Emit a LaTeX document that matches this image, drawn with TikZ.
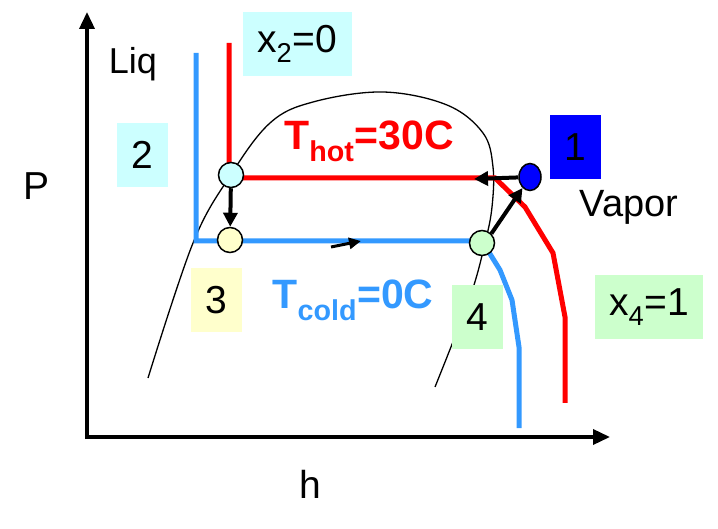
\documentclass[tikz,border=0pt]{standalone}
\usepackage{fontspec}
\setmainfont{Liberation Sans}
\usetikzlibrary{arrows.meta,shapes.geometric}
\definecolor{hotred}{RGB}{255,0,0}
\definecolor{coldblue}{RGB}{51,153,255}
\definecolor{tagcyan}{RGB}{204,255,255}
\definecolor{tagyellow}{RGB}{255,255,204}
\definecolor{taggreen}{RGB}{204,255,204}
\definecolor{tagblue}{RGB}{0,0,255}
\begin{document}
\begin{tikzpicture}[x=1pt,y=-1pt,font=\fontsize{39}{44}\selectfont,
 tag/.style={minimum width=51pt,minimum height=64pt,inner sep=0pt},
 state/.style={draw,ellipse,line width=1.5pt,minimum width=25pt,minimum height=25pt,inner sep=0pt},
 flow/.style={line width=4pt,-{Triangle[length=14pt,width=14pt]}},
 axis/.style={line width=3.5pt,-{Triangle[length=17pt,width=15pt]}},
 >=Stealth]
\useasboundingbox (0,0) rectangle (718,529);
\coordinate (origin) at (87,437);
\coordinate (ptop) at (87,12);
\coordinate (hend) at (610,437);
\draw[axis] ([yshift=-2pt]origin)--(ptop);
\draw[axis] ([xshift=-2pt]origin)--(hend);
\node (plabel) at (37,186) {P};
\node (hlabel) at (310,484) {h};
\node[font=\fontsize{36}{40}\selectfont] (liq) at (133,64) {Liq};
\node[font=\fontsize{38}{42}\selectfont] (vapor) at (629,207) {Vapor};
\draw[line width=1.3pt] plot[smooth,tension=0.6] coordinates {(148,378) (193,243) (230,176) (270,123) (313,102) (383,92) (447,105) (483,133) (493,167) (492,207) (485,243) (470,297) (435,387)};
\draw[hotred,line width=5pt,line join=miter] (229,43)--(229,178)--(495,178)--(525,207)--(553,253)--(565,317)--(565,403);
\draw[coldblue,line width=5pt,line join=miter] (196,53)--(196,241)--(482,241)--(500,270)--(512,300)--(519,347)--(519,428);
\node[text=hotred,font=\fontsize{41}{46}\selectfont\bfseries] (thot) at (369,141) {T\textsubscript{hot}=30C};
\node[text=coldblue,font=\fontsize{41}{46}\selectfont\bfseries] (tcold) at (353,300) {T\textsubscript{cold}=0C};
\node[tag,fill=tagcyan] (tag2) at (142,155) {2};
\node[tag,fill=tagcyan,minimum width=109pt] (tagx2) at (297,44) {x\textsubscript{2}=0};
\node[tag,fill=tagblue] (tag1) at (575,147) {1};
\node[tag,fill=tagyellow] (tag3) at (216,300) {3};
\node[tag,fill=taggreen] (tag4) at (477,317) {4};
\node[tag,fill=taggreen,minimum width=108pt] (tagx4) at (649,307) {x\textsubscript{4}=1};
\node[state,fill=tagcyan] (st2) at (231,175) {};
\node[state,fill=tagyellow] (st3) at (230,240) {};
\node[state,fill=taggreen] (st4) at (482,243) {};
\node[state,fill=tagblue,minimum width=22pt,minimum height=27pt] (st1) at (530,177) {};
\coordinate (condend) at (474,179);
\coordinate (evapa) at (331,247);
\coordinate (evapb) at (361,241);
\draw[flow] (st2)--(st3);
\draw[flow] (st1)--(condend);
\draw[flow] (st4.north east)--(st1);
\draw[line width=3pt,-{Triangle[length=12pt,width=11pt]}] (evapa)--(evapb);
\end{tikzpicture}
\end{document}
